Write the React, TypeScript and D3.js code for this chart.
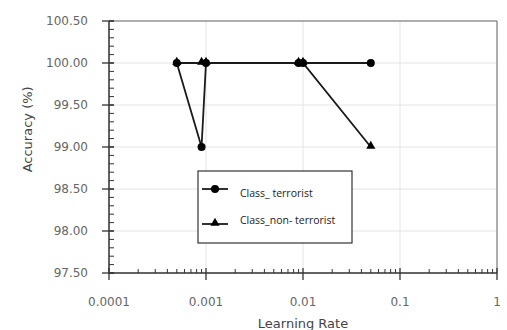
import React, { useRef, useEffect } from "react";
import * as d3 from "d3";

// learning rates and accuracy values
const learningRates = [0.0005, 0.0009, 0.001, 0.009, 0.01, 0.05];
const terroristAcc = [100, 99, 100, 100, 100, 100];
const nonTerroristAcc = [100, 100, 100, 100, 100, 99];
const seriesNames = ["Class_ terrorist", "Class_non- terrorist"];
const yTicks = [97.5, 98, 98.5, 99, 99.5, 100, 100.5];
const xTicks = [0.0001, 0.001, 0.01, 0.1, 1];

const W = 507;
const H = 330;

const App = () => {
  const svgRef = useRef(null);

  useEffect(() => {
    const svg = d3.select(svgRef.current);
    svg.selectAll("*").remove();

    const margin = { top: 21, right: 10, bottom: 57, left: 109 };
    const plotW = W - margin.left - margin.right;
    const plotH = H - margin.top - margin.bottom;

    const x = d3.scaleLog().domain([0.0001, 1]).range([0, plotW]);
    const y = d3.scaleLinear().domain([97.5, 100.5]).range([plotH, 0]);

    const g = svg.append("g").attr("transform", `translate(${margin.left},${margin.top})`);
    const font = "'DejaVu Sans', Verdana, sans-serif";

    /*** Grid ***/
    g.selectAll(".hgrid")
      .data(yTicks)
      .enter()
      .append("line")
      .attr("x1", 0)
      .attr("x2", plotW)
      .attr("y1", d => y(d))
      .attr("y2", d => y(d))
      .attr("stroke", "#e4e4e4")
      .attr("stroke-width", 1);

    g.selectAll(".vgrid")
      .data(xTicks)
      .enter()
      .append("line")
      .attr("x1", d => x(d))
      .attr("x2", d => x(d))
      .attr("y1", 0)
      .attr("y2", plotH)
      .attr("stroke", "#e4e4e4")
      .attr("stroke-width", 1);

    // top + right frame
    g.append("path")
      .attr("d", `M0,0H${plotW}V${plotH}`)
      .attr("fill", "none")
      .attr("stroke", "#6a6a6a")
      .attr("stroke-width", 1);

    /*** Y axis ***/
    const yMinor = d3.range(97.5, 100.5001, 0.1);
    g.selectAll(".yminor")
      .data(yMinor)
      .enter()
      .append("line")
      .attr("x1", 0)
      .attr("x2", 5)
      .attr("y1", d => y(d))
      .attr("y2", d => y(d))
      .attr("stroke", "#333")
      .attr("stroke-width", 1);
    g.selectAll(".ymajor")
      .data(yTicks)
      .enter()
      .append("line")
      .attr("x1", -7)
      .attr("x2", 5)
      .attr("y1", d => y(d))
      .attr("y2", d => y(d))
      .attr("stroke", "#333")
      .attr("stroke-width", 1.3);
    g.selectAll(".ylab")
      .data(yTicks)
      .enter()
      .append("text")
      .attr("x", -21)
      .attr("y", d => y(d))
      .attr("dy", "0.35em")
      .attr("text-anchor", "end")
      .attr("fill", "#666")
      .style("font-family", font)
      .style("font-size", "12px")
      .text(d => d.toFixed(2));
    g.append("line")
      .attr("x1", 0).attr("x2", 0).attr("y1", 0).attr("y2", plotH)
      .attr("stroke", "#333").attr("stroke-width", 1.5);

    /*** X axis ***/
    const xMinor: number[] = [];
    [0.0001, 0.001, 0.01, 0.1].forEach(dec => {
      for (let k = 2; k <= 9; k++) xMinor.push(dec * k);
    });
    g.selectAll(".xminor")
      .data(xMinor)
      .enter()
      .append("line")
      .attr("x1", d => x(d))
      .attr("x2", d => x(d))
      .attr("y1", plotH)
      .attr("y2", plotH - 4)
      .attr("stroke", "#333")
      .attr("stroke-width", 1);
    g.selectAll(".xmajor")
      .data(xTicks)
      .enter()
      .append("line")
      .attr("x1", d => x(d))
      .attr("x2", d => x(d))
      .attr("y1", plotH + 7)
      .attr("y2", plotH - 5)
      .attr("stroke", "#333")
      .attr("stroke-width", 1.3);
    g.selectAll(".xlab")
      .data(xTicks)
      .enter()
      .append("text")
      .attr("x", d => x(d))
      .attr("y", plotH + 33)
      .attr("text-anchor", "middle")
      .attr("fill", "#666")
      .style("font-family", font)
      .style("font-size", "12px")
      .text(d => String(d));
    g.append("line")
      .attr("x1", 0).attr("x2", plotW).attr("y1", plotH).attr("y2", plotH)
      .attr("stroke", "#333").attr("stroke-width", 1.5);

    /*** Titles ***/
    svg.append("text")
      .attr("x", margin.left + x(0.01))
      .attr("y", 328)
      .attr("text-anchor", "middle")
      .attr("fill", "#444")
      .style("font-family", font)
      .style("font-size", "13px")
      .text("Learning Rate");
    svg.append("text")
      .attr("transform", `translate(32,${margin.top + plotH * 0.43}) rotate(-90)`)
      .attr("text-anchor", "middle")
      .attr("fill", "#444")
      .style("font-family", font)
      .style("font-size", "13px")
      .text("Accuracy (%)");

    /*** Lines ***/
    const line = d3.line<[number, number]>()
      .x(d => x(d[0]))
      .y(d => y(d[1]));

    const s1 = learningRates.map((r, i) => [r, terroristAcc[i]] as [number, number]);
    const s2 = learningRates.map((r, i) => [r, nonTerroristAcc[i]] as [number, number]);

    [s1, s2].forEach(s => {
      g.append("path")
        .datum(s)
        .attr("fill", "none")
        .attr("stroke", "#1a1a1a")
        .attr("stroke-width", 1.8)
        .attr("d", line);
    });

    const tri = d3.symbol().type(d3.symbolTriangle).size(36);

    g.selectAll(".tri")
      .data(s2)
      .enter()
      .append("path")
      .attr("transform", d => `translate(${x(d[0])},${y(d[1]) - 1})`)
      .attr("d", tri)
      .attr("fill", "#000");

    g.selectAll(".dot")
      .data(s1)
      .enter()
      .append("circle")
      .attr("cx", d => x(d[0]))
      .attr("cy", d => y(d[1]))
      .attr("r", 4)
      .attr("fill", "#000");

    /*** Legend ***/
    const lg = svg.append("g").attr("transform", "translate(198,171)");
    lg.append("rect")
      .attr("width", 154)
      .attr("height", 72)
      .attr("fill", "#fff")
      .attr("stroke", "#333")
      .attr("stroke-width", 1.2);
    seriesNames.forEach((name, i) => {
      const ly = 18 + i * 35;
      lg.append("line")
        .attr("x1", 4).attr("x2", 30).attr("y1", ly).attr("y2", ly)
        .attr("stroke", "#1a1a1a").attr("stroke-width", 1.8);
      if (i === 0) {
        lg.append("circle").attr("cx", 17).attr("cy", ly).attr("r", 4).attr("fill", "#000");
      } else {
        lg.append("path").attr("transform", `translate(17,${ly - 1})`).attr("d", tri).attr("fill", "#000");
      }
      lg.append("text")
        .attr("x", 42)
        .attr("y", ly + (i === 0 ? 4 : -4))
        .attr("dy", "0.35em")
        .attr("fill", "#222")
        .style("font-family", "'Open Sans', sans-serif")
        .style("font-size", "10.5px")
        .text(name);
    });
  }, []);

  return (
    <svg ref={svgRef} width={W} height={H} style={{ position: "absolute", left: 0, top: 0, background: "#fff" }}></svg>
  );
};

export default App;
